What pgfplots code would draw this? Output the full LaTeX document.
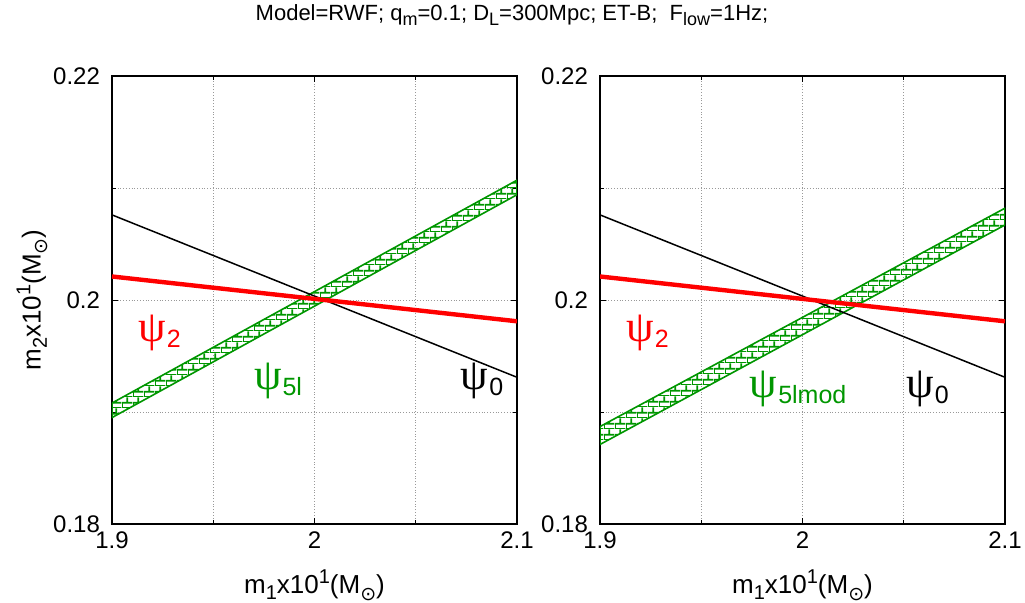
\documentclass[border=0pt]{standalone}
\usepackage{fontspec}
\setmainfont{Liberation Sans}
\newfontfamily\psifont{Liberation Serif}
\newfontfamily\symfont{DejaVu Sans}
\usepackage{pgfplots}
\pgfplotsset{compat=1.18}
\usetikzlibrary{patterns.meta}

\definecolor{bandgreen}{RGB}{0,150,0}

\tikzdeclarepattern{
  name=smallbricks,
  type=uncolored,
  bounding box={(0,0) and (5.6pt,5.4pt)},
  tile size={(5.6pt,5.4pt)},
  code={
    \draw[line width=0.9pt] (0,0) -- (5.6pt,0) (0,2.7pt) -- (5.6pt,2.7pt)
      (0,0) -- (0,2.7pt) (2.8pt,2.7pt) -- (2.8pt,5.4pt);
  }
}

% psi with a lowered subscript
\newcommand{\psilab}[1]{{\psifont\fontsize{22}{24}\selectfont ψ}\kern0.5pt\raisebox{-0.6ex}{\fontsize{12.5}{13}\selectfont #1}}
% lowered / raised small text
\newcommand{\lo}[2]{\raisebox{-0.45ex}{\fontsize{#1}{#1}\selectfont #2}}
\newcommand{\hi}[2]{\raisebox{0.75ex}{\fontsize{#1}{#1}\selectfont #2}}
\newcommand{\msun}{M\raisebox{-0.5ex}{\symfont\fontsize{9.5}{9.5}\selectfont ⊙}}

\pgfplotsset{
  panel/.style={
    scale only axis,
    width=202.5pt, height=224pt,
    xmin=1.9, xmax=2.1, ymin=0.18, ymax=0.22,
    xtick={1.9,2,2.1}, xticklabels={1.9,2,2.1},
    ytick={0.18,0.2,0.22}, yticklabels={0.18,0.2,0.22},
    minor x tick num=1, minor y tick num=1,
    grid=both,
    major grid style={densely dotted, gray!80, line width=0.5pt},
    minor grid style={densely dotted, gray!80, line width=0.5pt},
    axis line style={line width=0.8pt},
    tick align=inside,
    major tick length=3pt, minor tick length=2pt,
    tick style={black, line width=0.5pt},
    ticklabel style={font=\fontsize{12}{14}\selectfont},
    yticklabel style={xshift=-2.5pt},
    xticklabel style={yshift=-0.5pt},
    xlabel={m\lo{10}{1}x10\hi{10}{1}(\msun)},
    every axis x label/.style={at={(axis description cs:0.5,-0.136)}, anchor=center,
      font=\fontsize{13}{15}\selectfont},
    every axis y label/.style={at={(axis description cs:-0.197,0.5)}, rotate=90, anchor=center,
      font=\fontsize{13}{15}\selectfont},
    clip=true,
  }
}

\begin{document}
\begin{tikzpicture}
\useasboundingbox (-56pt,-39pt) rectangle (456.5pt,262pt);

\begin{axis}[panel, at={(0,0)},
  ylabel={m\lo{10}{2}x10\hi{10}{1}(\msun)}]
\addplot[draw=bandgreen, line width=0.8pt, pattern={smallbricks}, pattern color=bandgreen]
  coordinates {(1.9,0.1908) (2.1,0.2107) (2.1,0.2094) (1.9,0.1895) (1.9,0.1908)};
\addplot[black, line width=0.75pt] coordinates {(1.9,0.2076) (2.1,0.1931)};
\addplot[red, line width=2.2pt] coordinates {(1.9,0.2021) (2.1,0.1981)};
\node[text=red] at (axis cs:1.9235,0.19705) {\psilab{2}};
\node[text=bandgreen] at (axis cs:1.982,0.1928) {\psilab{5l}};
\node[text=black] at (axis cs:2.0827,0.1928) {\psilab{0}};
\end{axis}

\begin{axis}[panel, at={(244pt,0)}]
\addplot[draw=bandgreen, line width=0.8pt, pattern={smallbricks}, pattern color=bandgreen]
  coordinates {(1.9,0.1887) (2.1,0.2082) (2.1,0.2067) (1.9,0.1871) (1.9,0.1887)};
\addplot[black, line width=0.75pt] coordinates {(1.9,0.2076) (2.1,0.1931)};
\addplot[red, line width=2.2pt] coordinates {(1.9,0.2021) (2.1,0.1981)};
\node[text=red] at (axis cs:1.9235,0.19705) {\psilab{2}};
\node[text=bandgreen] at (axis cs:1.9978,0.1921) {\psilab{5lmod}};
\node[text=black] at (axis cs:2.0617,0.1921) {\psilab{0}};
\end{axis}

\node[font=\fontsize{11}{12}\selectfont] at (200pt,254.5pt)
  {Model=RWF; q\lo{9}{m}=0.1; D\lo{9}{L}=300Mpc; ET-B;\ \ F\lo{9}{low}=1Hz;};
\end{tikzpicture}
\end{document}
